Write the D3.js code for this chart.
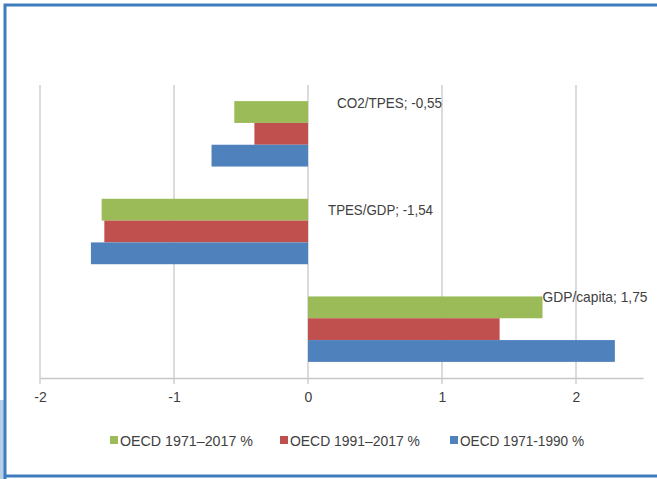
<!DOCTYPE html>
<html><head><meta charset="utf-8">
<script src="https://cdn.jsdelivr.net/npm/d3@7"></script>
<style>
html,body{margin:0;padding:0;background:#fff;}
svg{display:block;}
text{font-family:"Liberation Sans Narrow","Arial Narrow","Liberation Sans",Arial,sans-serif;fill:#404040;}
</style></head>
<body>
<svg id="chart" width="657" height="479"></svg>
<script>
const categories = ["CO2/TPES", "TPES/GDP", "GDP/capita"];
const seriesNames = ["OECD  1971\u20132017 %", "OECD 1991\u20132017  %", "OECD 1971-1990 %"];
const seriesColors = ["#9bbb59", "#c0504d", "#4f81bd"];
const s1971_2017 = [-0.55, -1.54, 1.75];
const s1991_2017 = [-0.40, -1.52, 1.43];
const s1971_1990 = [-0.72, -1.62, 2.29];
const dataLabels = ["CO2/TPES; -0,55", "TPES/GDP; -1,54", "GDP/capita; 1,75"];
const xTicks = [-2, -1, 0, 1, 2];

const series = [s1971_2017, s1991_2017, s1971_1990];
const svg = d3.select("#chart");

// frame
svg.append("rect").attr("x", 0).attr("y", 400).attr("width", 4).attr("height", 79).attr("fill", "#b8cfe6");
svg.append("path").attr("d", "M5,479 V5 H657").attr("fill", "none").attr("stroke", "#3f7cbd").attr("stroke-width", 3);
svg.append("path").attr("d", "M5,476 H657").attr("fill", "none").attr("stroke", "#3f7cbd").attr("stroke-width", 3);

const x = d3.scaleLinear().domain([-2, 2.5]).range([40, 643]);
const y = d3.scaleBand().domain(categories).range([85, 378]).paddingInner(0.33).paddingOuter(0.165);
const ySub = d3.scaleBand().domain(d3.range(series.length)).range([0, y.bandwidth()]);

// gridlines
svg.append("g").selectAll("line").data(xTicks).join("line")
  .attr("x1", d => x(d)).attr("x2", d => x(d))
  .attr("y1", 85).attr("y2", 384)
  .attr("stroke", "#c8c8c8").attr("stroke-width", 1.3);

// bars
series.forEach((vals, si) => {
  svg.append("g").selectAll("rect").data(vals).join("rect")
    .attr("x", d => x(Math.min(0, d)))
    .attr("width", d => Math.abs(x(d) - x(0)))
    .attr("y", (d, i) => y(categories[i]) + ySub(si))
    .attr("height", ySub.bandwidth())
    .attr("fill", seriesColors[si]);
});

// axis
const axis = d3.axisBottom(x).tickValues(xTicks).tickSize(0).tickPadding(14).tickFormat(d => d3.format("d")(d).replace("\u2212", "-"));
const gA = svg.append("g").attr("transform", "translate(0,378)").call(axis);
gA.select(".domain").attr("stroke", "#c8c8c8").attr("stroke-width", 1.3);
gA.selectAll("text").style("font-size", "14px").style("fill", "#404040")
  .style("font-family", "'Liberation Sans','Arial',sans-serif");

// data labels
svg.append("g").selectAll("text").data(dataLabels).join("text")
  .attr("x", (d, i) => i === 2 ? x(s1971_2017[2]) : x(0) + (i === 0 ? 29 : 20))
  .attr("y", (d, i) => y(categories[i]) + [7, 16, 6][i])
  .attr("textLength", 105).attr("lengthAdjust", "spacingAndGlyphs")
  .style("font-size", "14.5px")
  .text(d => d);

// legend
const legX = [110, 280, 450];
const legW = [133, 130, 124];
const lg = svg.append("g");
seriesNames.forEach((n, i) => {
  lg.append("rect").attr("x", legX[i]).attr("y", 436).attr("width", 8).attr("height", 8).attr("fill", seriesColors[i]);
  lg.append("text").attr("x", legX[i] + 10).attr("y", 445.5)
    .attr("textLength", legW[i]).attr("lengthAdjust", "spacingAndGlyphs")
    .style("font-size", "14.5px").text(n);
});
</script>
</body></html>
